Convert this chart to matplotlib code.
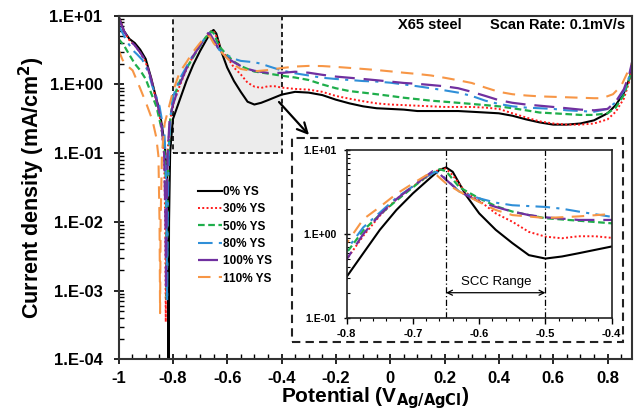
import numpy as np
import matplotlib
matplotlib.use("Agg")
import matplotlib.pyplot as plt
from matplotlib.patches import Rectangle
from matplotlib.ticker import FixedLocator, FuncFormatter, MultipleLocator

plt.rcParams['font.family'] = ['Liberation Sans', 'DejaVu Sans']

# ---- polarization data: potential (V vs Ag/AgCl) and current density (mA/cm2)
E_0 = [-1.0, -0.98, -0.96, -0.94, -0.92, -0.90, -0.88, -0.86, -0.85, -0.84, -0.83, -0.822, -0.818, -0.816,
       -0.814, -0.81, -0.80, -0.775, -0.75, -0.725, -0.70, -0.675, -0.66, -0.65, -0.64, -0.62, -0.60,
       -0.575, -0.55, -0.525, -0.50, -0.475, -0.45, -0.40, -0.35, -0.30, -0.25, -0.20, -0.15, -0.10,
       -0.05, 0.0, 0.05, 0.10, 0.15, 0.20, 0.25, 0.30, 0.35, 0.40, 0.45, 0.50, 0.55, 0.60, 0.65, 0.70,
       0.75, 0.80, 0.83, 0.86, 0.88, 0.89]
I_0 = [10.0, 6.0, 4.6, 4.0, 3.2, 2.35, 1.25, 0.6, 0.43, 0.25, 0.13, 0.05, 0.005, 1e-4,
       0.01, 0.1, 0.31, 0.59, 1.12, 1.93, 3.05, 4.57, 5.8, 6.2, 5.5, 2.9, 1.76,
       1.12, 0.78, 0.56, 0.51, 0.54, 0.59, 0.71, 0.78, 0.76, 0.70, 0.60, 0.53, 0.48,
       0.45, 0.44, 0.43, 0.41, 0.41, 0.41, 0.41, 0.40, 0.39, 0.38, 0.35, 0.31, 0.28, 0.26, 0.26, 0.27,
       0.30, 0.38, 0.50, 0.75, 1.2, 1.8]

E_30 = [-1.0, -0.98, -0.96, -0.94, -0.92, -0.90, -0.88, -0.86, -0.85, -0.84, -0.832, -0.828, -0.826,
        -0.824, -0.82, -0.81, -0.80, -0.775, -0.75, -0.725, -0.70, -0.675, -0.66, -0.65, -0.64, -0.62,
        -0.60, -0.575, -0.55, -0.525, -0.50, -0.475, -0.45, -0.425, -0.40, -0.35, -0.30, -0.25, -0.20,
        -0.15, -0.10, -0.05, 0.0, 0.05, 0.10, 0.15, 0.20, 0.25, 0.30, 0.35, 0.40, 0.45, 0.50, 0.55, 0.60,
        0.65, 0.70, 0.75, 0.80, 0.83, 0.86, 0.88, 0.89]
I_30 = [10.0, 6.0, 4.4, 3.7, 2.9, 2.1, 1.2, 0.55, 0.38, 0.2, 0.09, 0.01, 3.5e-4,
        0.01, 0.1, 0.3, 0.5, 0.95, 1.65, 2.6, 3.7, 5.0, 5.9, 6.0, 5.0, 3.1,
        2.5, 1.76, 1.4, 1.06, 0.93, 0.89, 0.94, 0.94, 0.90, 0.86, 0.84, 0.78, 0.68,
        0.62, 0.57, 0.53, 0.51, 0.50, 0.49, 0.48, 0.47, 0.47, 0.47, 0.46, 0.44, 0.38, 0.33, 0.29, 0.27,
        0.26, 0.26, 0.27, 0.31, 0.40, 0.62, 1.1, 1.8]

E_50 = [-1.0, -0.98, -0.96, -0.94, -0.92, -0.90, -0.88, -0.86, -0.845, -0.835, -0.828, -0.824, -0.822,
        -0.82, -0.816, -0.81, -0.80, -0.775, -0.75, -0.725, -0.70, -0.68, -0.66, -0.65, -0.63, -0.60,
        -0.575, -0.55, -0.525, -0.50, -0.45, -0.40, -0.35, -0.30, -0.25, -0.20, -0.15, -0.10, -0.05,
        0.0, 0.05, 0.10, 0.15, 0.20, 0.25, 0.30, 0.35, 0.40, 0.45, 0.50, 0.55, 0.60, 0.65, 0.70, 0.75,
        0.80, 0.83, 0.86, 0.88, 0.89]
I_50 = [4.6, 3.7, 2.7, 2.0, 1.6, 1.2, 0.75, 0.47, 0.26, 0.16, 0.08, 0.01, 7e-4,
        0.01, 0.1, 0.3, 0.6, 1.1, 1.7, 2.5, 3.6, 4.8, 5.9, 5.6, 3.6, 2.66,
        2.15, 1.85, 1.68, 1.54, 1.44, 1.34, 1.26, 1.16, 1.0, 0.88, 0.80, 0.76, 0.72,
        0.68, 0.64, 0.61, 0.58, 0.56, 0.54, 0.52, 0.50, 0.48, 0.45, 0.42, 0.39, 0.38, 0.37, 0.36, 0.36,
        0.38, 0.46, 0.70, 1.2, 1.8]

E_80 = [-1.0, -0.985, -0.97, -0.948, -0.93, -0.912, -0.89, -0.875, -0.86, -0.849, -0.84, -0.831, -0.826,
        -0.823, -0.821, -0.819, -0.815, -0.81, -0.80, -0.775, -0.75, -0.725, -0.70, -0.68, -0.665, -0.655,
        -0.63, -0.60, -0.575, -0.55, -0.525, -0.50, -0.475, -0.45, -0.40, -0.35, -0.30, -0.25, -0.20,
        -0.15, -0.10, -0.05, 0.0, 0.05, 0.10, 0.15, 0.20, 0.25, 0.30, 0.35, 0.40, 0.45, 0.50, 0.55, 0.60,
        0.65, 0.70, 0.75, 0.80, 0.83, 0.86, 0.88, 0.89]
I_80 = [7.3, 5.6, 4.3, 3.16, 2.7, 2.27, 1.5, 0.93, 0.65, 0.48, 0.3, 0.19, 0.08,
        0.01, 7e-4, 0.01, 0.1, 0.3, 0.65, 1.2, 1.8, 2.7, 3.7, 4.8, 5.5, 4.9,
        3.2, 2.66, 2.36, 2.2, 2.15, 2.1, 2.0, 1.85, 1.6, 1.45, 1.35, 1.25, 1.2,
        1.16, 1.12, 1.1, 1.06, 1.0, 0.94, 0.88, 0.82, 0.76, 0.68, 0.58, 0.52, 0.48, 0.46, 0.45, 0.44,
        0.42, 0.41, 0.40, 0.44, 0.55, 0.80, 1.3, 2.0]

E_100 = [-1.0, -0.98, -0.96, -0.94, -0.92, -0.90, -0.88, -0.86, -0.85, -0.84, -0.832, -0.827, -0.825,
         -0.823, -0.819, -0.812, -0.80, -0.775, -0.75, -0.725, -0.70, -0.68, -0.67, -0.66, -0.63, -0.60,
         -0.575, -0.55, -0.525, -0.50, -0.45, -0.40, -0.35, -0.30, -0.25, -0.20, -0.15, -0.10, -0.05,
         0.0, 0.05, 0.10, 0.15, 0.20, 0.25, 0.30, 0.35, 0.40, 0.45, 0.50, 0.55, 0.60, 0.65, 0.70, 0.75,
         0.80, 0.83, 0.86, 0.88, 0.89]
I_100 = [9.5, 6.0, 4.4, 3.7, 2.9, 2.2, 1.2, 0.58, 0.4, 0.22, 0.1, 0.01, 1e-3,
         0.01, 0.1, 0.3, 0.5, 1.0, 1.7, 2.6, 3.7, 4.9, 5.6, 5.2, 3.2, 2.43,
         2.1, 1.85, 1.68, 1.58, 1.47, 1.47, 1.53, 1.48, 1.38, 1.30, 1.25, 1.20, 1.15,
         1.10, 1.05, 1.02, 0.98, 0.94, 0.88, 0.78, 0.68, 0.59, 0.54, 0.51, 0.49, 0.47, 0.45, 0.43, 0.42,
         0.44, 0.56, 0.85, 1.4, 2.1]

E_110 = [-1.0, -0.985, -0.97, -0.948, -0.923, -0.898, -0.875, -0.861, -0.853, -0.849, -0.847, -0.845,
         -0.84, -0.83, -0.80, -0.775, -0.75, -0.725, -0.70, -0.68, -0.664, -0.65, -0.63, -0.60, -0.575,
         -0.55, -0.50, -0.45, -0.40, -0.35, -0.30, -0.25, -0.20, -0.15, -0.10, -0.05, 0.0, 0.05, 0.10,
         0.15, 0.20, 0.25, 0.30, 0.35, 0.40, 0.45, 0.50, 0.55, 0.60, 0.65, 0.70, 0.75, 0.78, 0.82, 0.85,
         0.87, 0.89]
I_110 = [3.2, 2.27, 1.9, 1.6, 0.93, 0.53, 0.3, 0.17, 0.09, 0.01, 4.7e-4, 0.01,
         0.1, 0.27, 0.78, 1.5, 2.1, 3.0, 4.0, 5.0, 5.0, 4.0, 3.2, 2.4, 1.93,
         1.68, 1.55, 1.62, 1.73, 1.82, 1.86, 1.85, 1.80, 1.74, 1.68, 1.62, 1.55, 1.48, 1.42,
         1.35, 1.25, 1.15, 1.05, 0.90, 0.78, 0.72, 0.69, 0.67, 0.66, 0.65, 0.64, 0.63, 0.63, 0.72, 0.95,
         1.4, 2.0]

labels = ["0% YS", "30% YS", "50% YS", "80% YS", "100% YS", "110% YS"]
potentials = [E_0, E_30, E_50, E_80, E_100, E_110]
currents = [I_0, I_30, I_50, I_80, I_100, I_110]

styles = [
    dict(color="#000000", linestyle="-", lw=1.5),
    dict(color="#ff1a1a", linestyle=(0, (1, 1.2)), lw=1.4),
    dict(color="#1fae4b", linestyle=(0, (3, 1.6)), lw=1.6),
    dict(color="#2f8fd8", linestyle=(0, (7, 3, 1.5, 3)), lw=1.5),
    dict(color="#7030a0", linestyle=(0, (9, 4)), lw=1.6),
    dict(color="#f79646", linestyle=(0, (6, 4)), lw=1.5),
]

y_ticks = [1e-4, 1e-3, 1e-2, 1e-1, 1e0, 1e1]
x_ticks = [-1.0, -0.8, -0.6, -0.4, -0.2, 0.0, 0.2, 0.4, 0.6, 0.8]
inset_x_ticks = [-0.8, -0.7, -0.6, -0.5, -0.4]
inset_y_ticks = [1e-1, 1e0, 1e1]
scc_range = (-0.65, -0.5)


def sci_label(v, pos=None):
    return "1.E{:+03d}".format(int(round(np.log10(v))))


def num_label(v, pos=None):
    s = "{:g}".format(round(v, 2))
    return "0" if s in ("0", "-0") else s


W, H = 634, 412
fig = plt.figure(figsize=(W / 100, H / 100), dpi=100)


def fbox(x0, y0, x1, y1):
    """pixel box (top-left origin) -> figure fraction rect"""
    return [x0 / W, (H - y1) / H, (x1 - x0) / W, (y1 - y0) / H]


ax = fig.add_axes(fbox(118.5, 15.7, 632, 359.3))
ax.set_yscale("log")
ax.set_xlim(-1.0, 0.89)
ax.set_ylim(1e-4, 10)

# zoom window behind the curves
ax.add_patch(Rectangle((-0.8, 0.1), 0.4, 9.9, facecolor="#ececec", edgecolor="black",
                       linestyle=(0, (3, 2)), lw=1.2, zorder=0.5))

for E, I, st, lab in zip(potentials, currents, styles, labels):
    ax.plot(E, I, label=lab, zorder=2, **st)

ax.xaxis.set_major_locator(FixedLocator(x_ticks))
ax.xaxis.set_major_formatter(FuncFormatter(num_label))
ax.xaxis.set_minor_locator(MultipleLocator(0.05))
ax.yaxis.set_major_locator(FixedLocator(y_ticks))
ax.yaxis.set_major_formatter(FuncFormatter(sci_label))
ax.tick_params(which="major", direction="inout", length=7, width=1.2, labelsize=12)
ax.tick_params(axis="y", which="major", pad=8)
ax.tick_params(axis="x", which="major", pad=5)
ax.tick_params(which="minor", direction="in", length=3.5, width=1.0)
for t in ax.get_xticklabels() + ax.get_yticklabels():
    t.set_fontweight("bold")
for sp in ax.spines.values():
    sp.set_linewidth(1.5)
    sp.set_color("#333333")

ax.set_xlabel(r"Potential (V$_{\mathbf{Ag/AgCl}}$)", fontsize=15, fontweight="bold", labelpad=-1)
ax.set_ylabel(r"Current density (mA/cm$^{\mathbf{2}}$)", fontsize=15.5, fontweight="bold", labelpad=2)

leg = ax.legend(loc="upper left", bbox_to_anchor=(198 / W, (H - 186) / H),
                bbox_transform=fig.transFigure, frameon=False, prop=dict(size=8.5, weight="bold"),
                handlelength=2.0, handletextpad=0.1, labelspacing=0.45, borderpad=0, borderaxespad=0)

fig.text(430 / W, (H - 25) / H, "X65 steel", ha="center", va="center", fontsize=10.5, fontweight="bold")
fig.text(625 / W, (H - 25) / H, "Scan Rate: 0.1mV/s", ha="right", va="center", fontsize=10.5,
         fontweight="bold")

# dashed frame holding the magnified view
fr = fbox(291.7, 138, 623, 341.7)
ax.add_patch(Rectangle((fr[0], fr[1]), fr[2], fr[3], transform=fig.transFigure, facecolor="white",
                       edgecolor="#222222", linestyle=(0, (4, 2.5)), lw=1.5, clip_on=False, zorder=3))

ax.annotate("", xy=(309, H - 135), xytext=(279, H - 102), xycoords="figure pixels",
            textcoords="figure pixels",
            arrowprops=dict(arrowstyle="->", lw=1.6, color="black", mutation_scale=18,
                            shrinkA=0, shrinkB=0), zorder=4)

# magnified view
axi = fig.add_axes(fbox(346.7, 150, 611.7, 318), zorder=5)
axi.set_yscale("log")
for E, I, st in zip(potentials, currents, styles):
    axi.plot(E, I, **st)
axi.set_xlim(-0.8, -0.4)
axi.set_ylim(0.1, 10)
for xv in scc_range:
    axi.axvline(xv, color="black", lw=0.9, linestyle=(0, (5, 2, 1, 2)))
axi.annotate("", xy=(scc_range[1], 0.2), xytext=(scc_range[0], 0.2),
             arrowprops=dict(arrowstyle="<->", lw=0.9, color="black", mutation_scale=9,
                             shrinkA=0, shrinkB=0))
axi.text(sum(scc_range) / 2, 0.27, "SCC Range", ha="center", va="center", fontsize=9.5)

axi.xaxis.set_major_locator(FixedLocator(inset_x_ticks))
axi.xaxis.set_major_formatter(FuncFormatter(num_label))
axi.xaxis.set_minor_locator(MultipleLocator(0.02))
axi.yaxis.set_major_locator(FixedLocator(inset_y_ticks))
axi.yaxis.set_major_formatter(FuncFormatter(sci_label))
axi.tick_params(axis="x", which="major", direction="out", length=4, width=1, labelsize=8, pad=4)
axi.tick_params(axis="x", which="minor", direction="out", length=2.5, width=0.8)
axi.tick_params(axis="y", which="major", direction="inout", length=5, width=1, labelsize=7.5, pad=5)
axi.tick_params(axis="y", which="minor", direction="in", length=2.5, width=0.8)
for t in axi.get_xticklabels() + axi.get_yticklabels():
    t.set_fontweight("bold")
for sp in axi.spines.values():
    sp.set_linewidth(1.2)
    sp.set_color("#222222")

fig.savefig("out.png", dpi=100)
